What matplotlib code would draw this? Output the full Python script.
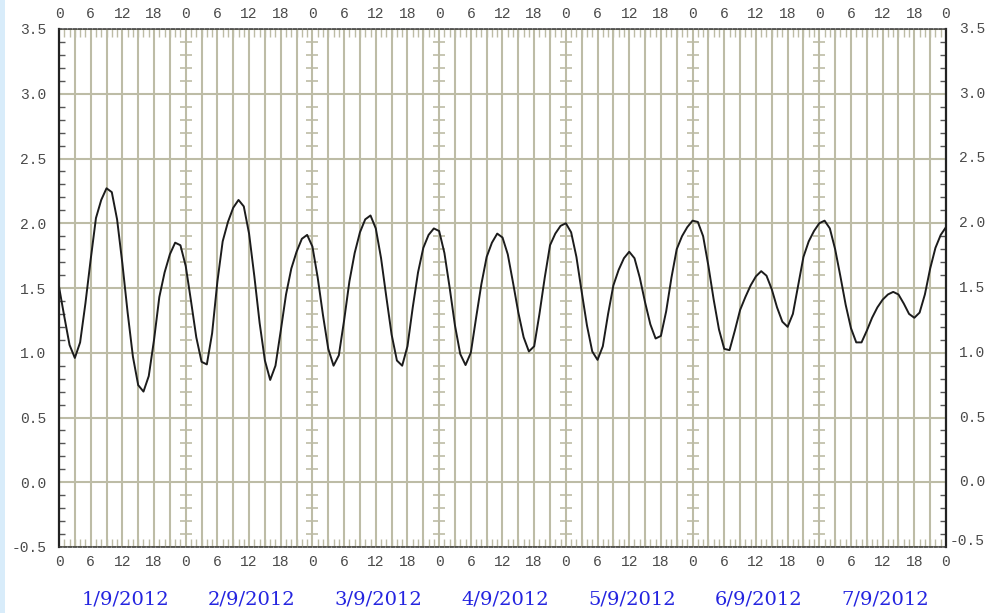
import matplotlib
matplotlib.use('Agg')
import matplotlib.pyplot as plt
import numpy as np
from matplotlib.patches import Rectangle
from matplotlib.transforms import blended_transform_factory

# ---- data: hourly tide level (m), 1/9/2012 00h to 8/9/2012 00h ----
hours = list(range(169))
level = [
    1.51, 1.28, 1.06, 0.96, 1.08, 1.38, 1.72, 2.04, 2.18, 2.27, 2.24, 2.03,
    1.69, 1.31, 0.97, 0.75, 0.70, 0.82, 1.10, 1.43, 1.62, 1.76, 1.85, 1.83,
    1.67, 1.40, 1.12, 0.93, 0.91, 1.15, 1.55, 1.86, 2.01, 2.12, 2.18, 2.13,
    1.92, 1.59, 1.23, 0.94, 0.79, 0.90, 1.17, 1.45, 1.65, 1.78, 1.88, 1.91,
    1.82, 1.58, 1.29, 1.03, 0.90, 0.98, 1.25, 1.55, 1.77, 1.93, 2.03, 2.06,
    1.96, 1.73, 1.43, 1.14, 0.94, 0.90, 1.05, 1.35, 1.62, 1.81, 1.91, 1.96,
    1.94, 1.77, 1.50, 1.21, 0.99, 0.905, 1.00, 1.27, 1.53, 1.74, 1.85, 1.92,
    1.89, 1.76, 1.54, 1.31, 1.12, 1.01, 1.05, 1.30, 1.58, 1.83, 1.92, 1.98,
    2.00, 1.93, 1.74, 1.47, 1.21, 1.01, 0.945, 1.05, 1.30, 1.52, 1.64, 1.73,
    1.78, 1.73, 1.58, 1.39, 1.22, 1.11, 1.13, 1.32, 1.58, 1.80, 1.90, 1.97,
    2.02, 2.01, 1.90, 1.67, 1.41, 1.18, 1.03, 1.02, 1.17, 1.33, 1.43, 1.52,
    1.59, 1.63, 1.595, 1.49, 1.35, 1.24, 1.20, 1.30, 1.52, 1.74, 1.86, 1.94,
    2.00, 2.02, 1.96, 1.80, 1.59, 1.37, 1.19, 1.08, 1.08, 1.17, 1.27, 1.35,
    1.41, 1.45, 1.47, 1.45, 1.38, 1.30, 1.27, 1.31, 1.45, 1.65, 1.81, 1.91,
    1.97,
]
dates = ['1/9/2012', '2/9/2012', '3/9/2012', '4/9/2012',
         '5/9/2012', '6/9/2012', '7/9/2012']
x_major = list(range(0, 169, 6))
x_labels = [str(h % 24) for h in x_major]
y_major = [-0.5, 0.0, 0.5, 1.0, 1.5, 2.0, 2.5, 3.0, 3.5]
y_labels = ['-0.5', '0.0', '0.5', '1.0', '1.5', '2.0', '2.5', '3.0', '3.5']

# ---- styling ----
GRID = '#bdbca6'
TICKFONT = ['Liberation Mono', 'DejaVu Sans Mono']
LABELCOL = '#4a4a4a'
W, H = 991, 613
AX_L, AX_R, AX_T, AX_B = 59, 946, 29, 547

fig = plt.figure(figsize=(W / 100, H / 100), dpi=100)
fig.patch.set_facecolor('white')
fig.add_artist(Rectangle((0, 0), 5 / W, 1, transform=fig.transFigure,
                         facecolor='#d8ecfa', edgecolor='none', zorder=-5))

ax = fig.add_axes([AX_L / W, 1 - AX_B / H, (AX_R - AX_L) / W, (AX_B - AX_T) / H])
ax.set_xlim(0, 168)
ax.set_ylim(-0.5, 3.5)

# grid
for h in range(0, 169, 3):
    ax.axvline(h, color=GRID, lw=1.5, zorder=1)
for v in y_major:
    ax.axhline(v, color=GRID, lw=1.5, zorder=1)

# small cross marks on the midnight lines
mid_x = []
mid_y = []
for d in range(24, 168, 24):
    for k in range(-4, 35):
        mid_x.append(d)
        mid_y.append(k / 10)
ax.plot(mid_x, mid_y, ls='none', marker='_', ms=8, mew=1.2, color=GRID, zorder=1.5)

# tide curve
ax.plot(hours, level, color='#1c1c1c', lw=1.4, zorder=3,
        solid_joinstyle='round', solid_capstyle='round')

# spines
for s in ('left', 'right'):
    ax.spines[s].set_color('#222222')
    ax.spines[s].set_linewidth(1.6)
for s in ('top', 'bottom'):
    ax.spines[s].set_color('#333333')
    ax.spines[s].set_linewidth(1.1)
    ax.spines[s].set_linestyle((0, (2.0, 1.2)))

# ticks
ax.set_xticks(x_major)
ax.set_xticklabels(x_labels)
ax.set_xticks(range(169), minor=True)
ax.tick_params(axis='x', which='major', length=0, top=True, bottom=True,
               labeltop=True, labelbottom=True, pad=6, labelsize=10.5,
               labelcolor=LABELCOL)
ax.tick_params(axis='x', which='minor', direction='in', length=6, width=1,
               color=GRID, top=True, bottom=True)

ax.set_yticks(y_major)
ax.set_yticklabels(y_labels)
ax.set_yticks([k / 10 for k in range(-5, 36)], minor=True)
ax.tick_params(axis='y', which='major', length=0, left=True, right=True,
               labelleft=True, labelright=False, pad=9, labelsize=10.5,
               labelcolor=LABELCOL)
ax.tick_params(axis='y', which='minor', direction='in', length=4, width=1,
               color='#555555', left=True, right=True)

for lab in ax.get_xticklabels() + ax.get_yticklabels():
    lab.set_family(TICKFONT)

# right-hand labels, right-aligned at the image edge
rtrans = blended_transform_factory(ax.transAxes, ax.transData)
xr = (985 - AX_L) / (AX_R - AX_L)
for v, lab in zip(y_major, y_labels):
    yy = v + (0.05 if v == y_major[0] else 0.0)
    ax.text(xr, yy, lab, transform=rtrans, ha='right', va='center',
            fontsize=10.5, color=LABELCOL, family=TICKFONT, clip_on=False)

# date labels
trans = blended_transform_factory(ax.transData, ax.transAxes)
for i, d in enumerate(dates):
    ax.text(12.5 + 24 * i, 1 - (600 - AX_T) / (AX_B - AX_T), d, transform=trans,
            ha='center', va='center', fontsize=14, color='#2424e0',
            family=['DejaVu Serif'])

fig.savefig('out.png', dpi=100, facecolor='white')
